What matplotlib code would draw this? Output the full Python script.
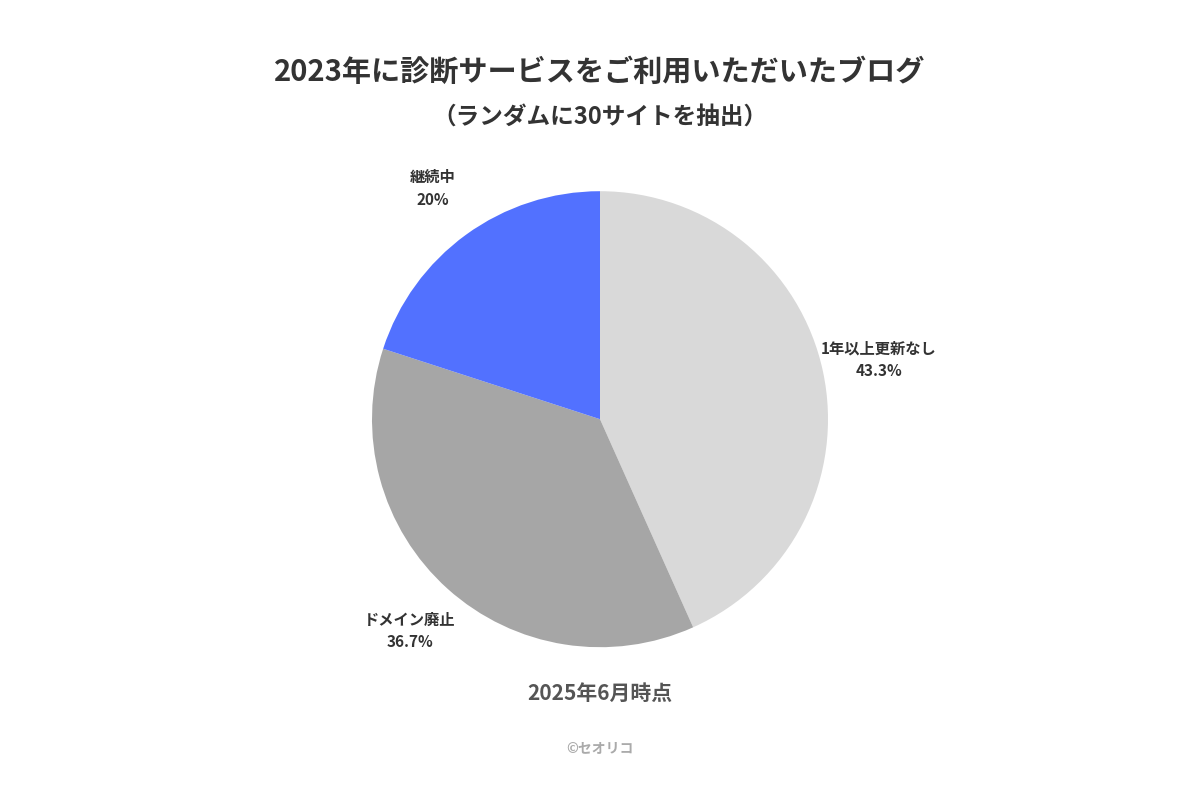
import matplotlib
matplotlib.use("Agg")
import matplotlib.pyplot as plt

plt.rcParams['font.family'] = ['Noto Sans CJK JP', 'DejaVu Sans']

categories = ["1年以上更新なし", "ドメイン廃止", "継続中"]
values = [43.3, 36.7, 20.0]
colors = ["#d9d9d9", "#a6a6a6", "#5271ff"]

fig = plt.figure(figsize=(12, 8), dpi=100)
fig.patch.set_facecolor("white")
ax = fig.add_axes([0.5 - 0.19, 0.476 - 0.285, 0.38, 0.57])
labels = [f"{c}\n{v:g}%" for c, v in zip(categories, values)]
wedges, texts = ax.pie(values, colors=colors, startangle=90, counterclock=False,
                       labels=labels, labeldistance=1.25,
                       textprops=dict(fontsize=11, fontweight='bold', color="#333333",
                                      ha='center', va='center', linespacing=1.5))
for t in texts:
    t.set_ha('center')
ax.set_aspect('equal')
ax.set_xlim(-1, 1); ax.set_ylim(-1, 1)

fig.text(0.5, 1 - 72/800, "2023年に診断サービスをご利用いただいたブログ", ha='center', va='center',
         fontsize=21, fontweight='bold', color="#333333")
fig.text(0.5, 1 - 117/800, "（ランダムに30サイトを抽出）", ha='center', va='center',
         fontsize=17, fontweight='bold', color="#333333")
fig.text(0.5, 1 - 693/800, "2025年6月時点", ha='center', va='center',
         fontsize=15, fontweight='bold', color="#555555")
fig.text(0.5, 1 - 748/800, "©セオリコ", ha='center', va='center',
         fontsize=10, fontweight='bold', color="#aaaaaa")
fig.savefig("out.png", dpi=100, facecolor="white")
